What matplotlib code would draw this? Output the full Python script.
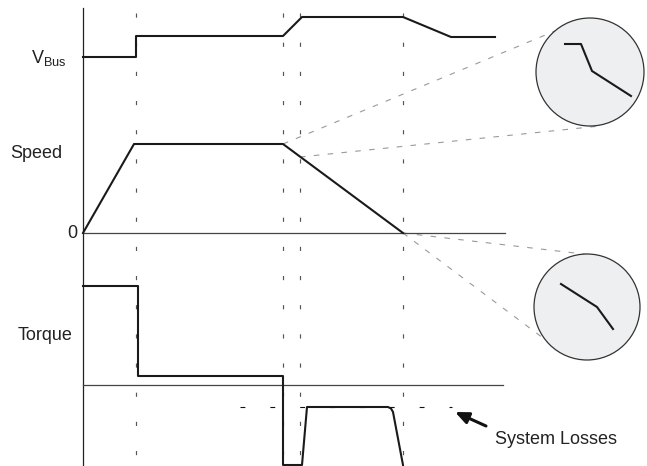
import matplotlib.pyplot as plt
from matplotlib.patches import Circle

# Schematic in pixel units: x = time position, y = height measured from the top
plt.rcParams['font.family'] = ['Liberation Sans Narrow', 'Liberation Sans', 'DejaVu Sans']

axis_x = 83
event_x = [136, 283, 300, 403]

vbus_x = [83, 136, 136, 283, 302, 403, 451, 495]
vbus_y = [57, 57, 36, 36, 17, 17, 37, 37]

speed_x = [83, 134, 283, 403]
speed_y = [233, 144, 144, 233]
speed_zero = 233

torque_x = [83, 138, 138, 283, 283, 302, 307, 388, 391, 393, 403]
torque_y = [286, 286, 376, 376, 465, 465, 407, 407, 408.5, 412, 465]
torque_zero = 385

loss_level = 407
loss_span = [240, 452]

# zoomed details (circle centre, radius, trace inside)
top_zoom = (590, 72, 54)
top_trace_x = [565, 581, 592, 631]
top_trace_y = [44, 44, 71, 96]
bot_zoom = (587, 307, 53)
bot_trace_x = [561, 597, 613]
bot_trace_y = [284, 307, 329]

labels = ['$\\mathregular{V_{Bus}}$', 'Speed', '0', 'Torque']
label_y = [58, 154, 234, 335]
label_x = [66, 62, 77, 73]

fig = plt.figure(figsize=(6.47, 4.66), dpi=100)
ax = fig.add_axes([0, 0, 1, 1])
ax.set_xlim(0, 647)
ax.set_ylim(466, 0)
ax.axis('off')

plt.rcParams['lines.scale_dashes'] = False

# event markers
for x in event_x:
    ax.plot([x, x], [13, 466], color='#555555', lw=0.85, dashes=(3, 18), zorder=1)

# axes lines
ax.plot([axis_x, axis_x], [8, 466], color='#222222', lw=0.9)
ax.plot([axis_x, 505], [speed_zero, speed_zero], color='#444444', lw=0.9)
ax.plot([axis_x, 503], [torque_zero, torque_zero], color='#444444', lw=0.9)

# signals
ax.plot(vbus_x, vbus_y, color='#1a1a1a', lw=1.5, zorder=3)
ax.plot(speed_x, speed_y, color='#1a1a1a', lw=1.5, zorder=3)
ax.plot(torque_x, torque_y, color='#1a1a1a', lw=1.5, zorder=3)

# system losses level
ax.plot(loss_span, [loss_level, loss_level], color='#111111', lw=0.8,
        dashes=(3.5, 18), zorder=2)
ax.annotate('', xy=(455, 412), xytext=(486, 426),
            arrowprops=dict(arrowstyle='-|>,head_length=0.8,head_width=0.35',
                            color='#111111', lw=2.2, shrinkA=0, shrinkB=0))
ax.text(495, 440, 'System Losses', fontsize=13, va='center', ha='left', color='#222222')

# projection lines to zoom circles
proj_kw = dict(color='#9a9a9a', lw=0.8, dashes=(4, 6), zorder=1)
ax.plot([283, 555], [144, 31], **proj_kw)
ax.plot([300, 600], [157, 126], **proj_kw)
ax.plot([403, 592], [233, 255], **proj_kw)
ax.plot([403, 555], [233, 347], **proj_kw)

for (cx, cy, r), tx, ty in [(top_zoom, top_trace_x, top_trace_y),
                            (bot_zoom, bot_trace_x, bot_trace_y)]:
    ax.add_patch(Circle((cx, cy), r, facecolor='#eeeff1', edgecolor='#333333',
                        lw=0.9, zorder=4))
    ax.plot(tx, ty, color='#1a1a1a', lw=1.5, zorder=5)

for lab, x, y in zip(labels, label_x, label_y):
    ax.text(x, y, lab, fontsize=13, ha='right', va='center', color='#222222')

fig.savefig('out.png', dpi=100)
